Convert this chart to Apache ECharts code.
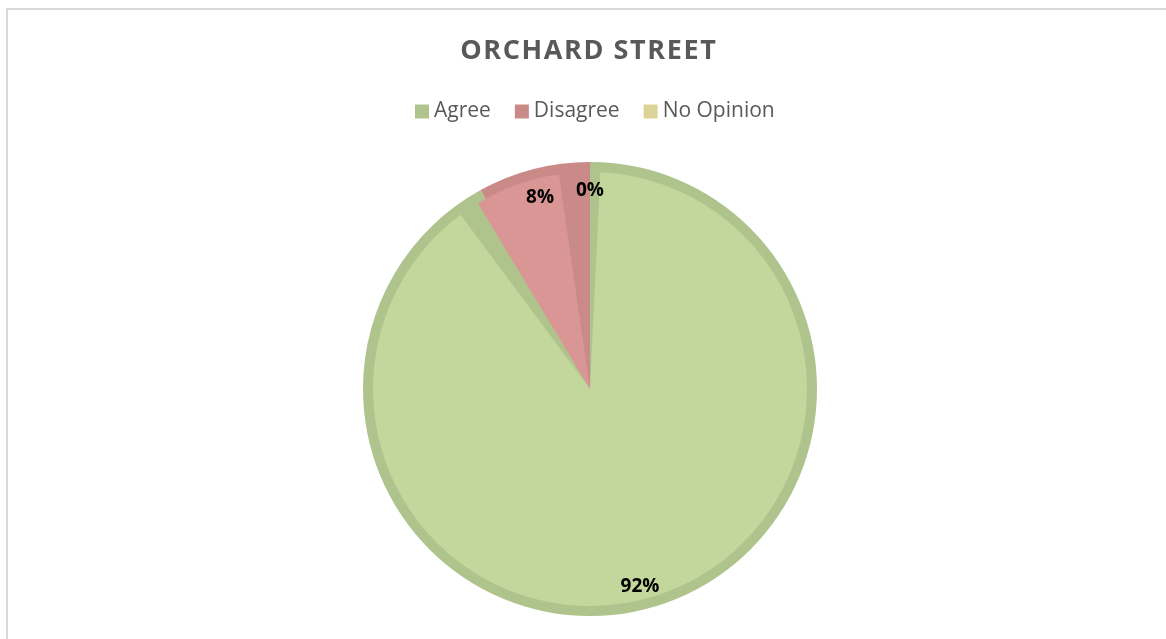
<!DOCTYPE html>
<html lang="en">
<head>
    <meta charset="UTF-8">
    <title>Orchard Street</title>
    <style>
        body { margin: 0; background: #fff; }
        #frame { position: absolute; left: 6px; top: 8px; width: 1170px; height: 640px;
                 border-left: 2px solid #d9d9d9; border-top: 2px solid #d9d9d9; }
        #main { position: absolute; left: 10px; top: 0; width: 1156px; height: 639px; }
    </style>
</head>
<body>
<div id="frame"></div>
<div id="main"></div>

<script src="https://cdn.jsdelivr.net/npm/echarts@6.0.0/dist/echarts.min.js"></script>
<script>
    // chart data
    var chartTitle = 'ORCHARD STREET';
    var categories = ['Agree', 'Disagree', 'No Opinion'];
    var percents = [92, 8, 0];
    var fillColors = ['#c3d69b', '#d99694', '#ebe2a6'];
    var edgeColors = ['#afc48c', '#c98a88', '#dcd497'];
    var noColors = ['transparent', 'transparent', 'transparent'];

    function makeData(colors) {
        return categories.map(function (name, i) {
            return { name: name, value: percents[i], itemStyle: { color: colors[i] } };
        });
    }

    // spaced-out title, one rich token per letter
    var spacedTitle = chartTitle.split('').map(function (c) {
        return '{s|' + c + '}';
    }).join('');

    var myChart = echarts.init(document.getElementById('main'));
    var center = [580, 389];
    var option = {
        animation: false,
        title: {
            text: spacedTitle,
            left: 'center',
            top: 33,
            textStyle: {
                rich: {
                    s: { fontFamily: 'Open Sans', fontSize: 27, fontWeight: 'bold', color: '#595959',
                         padding: [0, 0.8, 0, 0.8] }
                }
            }
        },
        legend: {
            top: 96,
            left: 400,
            icon: 'rect',
            itemWidth: 14,
            itemHeight: 14,
            itemGap: 24,
            selectedMode: false,
            data: categories.map(function (name, i) {
                return { name: name, itemStyle: { color: edgeColors[i] } };
            }),
            textStyle: { fontFamily: 'Open Sans', fontSize: 21, color: '#595959' }
        },
        series: [
            {
                // outer (darker) edge of each slice
                type: 'pie',
                center: center,
                radius: [0, 227],
                startAngle: 90,
                clockwise: true,
                silent: true,
                label: { show: false },
                labelLine: { show: false },
                data: makeData(edgeColors)
            },
            {
                // inner fill of each slice
                type: 'pie',
                center: center,
                radius: [0, 217],
                startAngle: 90,
                clockwise: true,
                padAngle: 5.5,
                silent: true,
                label: { show: false },
                labelLine: { show: false },
                data: makeData(fillColors)
            },
            {
                // percentage labels
                type: 'pie',
                center: center,
                radius: [179, 217],
                startAngle: 90,
                clockwise: true,
                silent: true,
                labelLine: { show: false },
                label: {
                    show: true,
                    position: 'inside',
                    formatter: '{c}%',
                    offset: [0, 3],
                    fontFamily: 'Open Sans',
                    fontSize: 19,
                    fontWeight: 'bold',
                    color: '#000'
                },
                data: makeData(noColors)
            }
        ]
    };
    myChart.setOption(option);
</script>
</body>
</html>
